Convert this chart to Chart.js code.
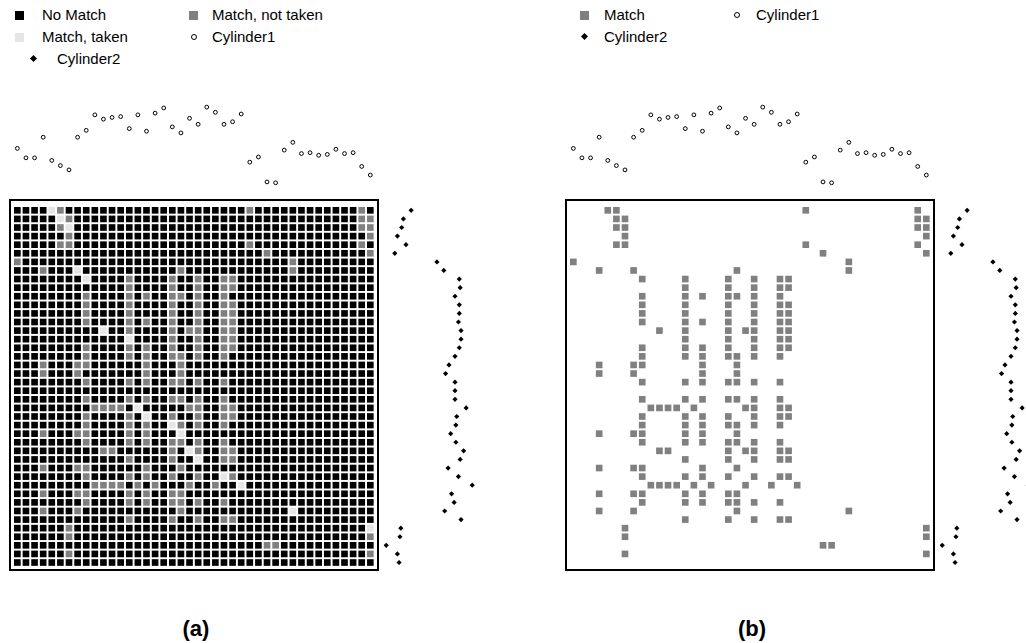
<!DOCTYPE html>
<html>
<head>
<meta charset="utf-8">
<script src="https://cdn.jsdelivr.net/npm/chart.js@4.4.0/dist/chart.umd.min.js"></script>
<style>
  html, body { margin: 0; padding: 0; background: #fff; }
  body { width: 1026px; height: 643px; position: relative; overflow: hidden; font-family: "Liberation Sans", Arial, sans-serif; color: #000; }
  .panel { position: absolute; top: 90px; }
  .key { position: absolute; height: 18px; line-height: 18px; font-size: 15px; white-space: nowrap; }
  .sw { position: absolute; }
  .sq { width: 9px; height: 9px; }
  .ring { width: 4px; height: 4px; border: 1px solid #000; border-radius: 50%; background: #fff; }
  .dia { width: 5px; height: 5px; background: #000; transform: rotate(45deg); }
  .cap { position: absolute; top: 615px; width: 120px; text-align: center; font-size: 22px; font-weight: bold; line-height: 28px; }
</style>
</head>
<body>
  <!-- Legend (a) -->
  <div class="sw sq" style="left:15px; top:11px; background:#000000;"></div>
  <div class="key" style="left:42px; top:6px;">No Match</div>
  <div class="sw sq" style="left:189px; top:11px; background:#808080;"></div>
  <div class="key" style="left:212px; top:6px;">Match, not taken</div>
  <div class="sw sq" style="left:15px; top:33px; background:#e6e6e6;"></div>
  <div class="key" style="left:42px; top:28px;">Match, taken</div>
  <div class="sw ring" style="left:191px; top:34px;"></div>
  <div class="key" style="left:212px; top:28px;">Cylinder1</div>
  <div class="sw dia" style="left:31px; top:56px;"></div>
  <div class="key" style="left:57px; top:50px;">Cylinder2</div>

  <!-- Legend (b) -->
  <div class="sw sq" style="left:580px; top:11px; background:#808080;"></div>
  <div class="key" style="left:604px; top:6px;">Match</div>
  <div class="sw ring" style="left:734px; top:12px;"></div>
  <div class="key" style="left:756px; top:6px;">Cylinder1</div>
  <div class="sw dia" style="left:582px; top:34px;"></div>
  <div class="key" style="left:604px; top:28px;">Cylinder2</div>

  <div class="panel" style="left:0px;"><canvas id="chartA" width="490" height="500"></canvas></div>
  <div class="panel" style="left:556px;"><canvas id="chartB" width="490" height="500"></canvas></div>

  <div class="cap" style="left:136px;">(a)</div>
  <div class="cap" style="left:692px;">(b)</div>

<script>
// Grid of 42 x 42 cells (rows = cylinder2 samples, columns = cylinder1 samples)
const GRID = 42;

// Columns that match, per row
const matchCols = [
  [4, 5, 27, 40],
  [5, 6, 40, 41],
  [5, 6, 40, 41],
  [6, 41],
  [5, 6, 27, 40],
  [29, 41],
  [0, 32],
  [3, 7, 19, 32],
  [8, 13, 18, 21, 24, 25],
  [13, 18, 21, 24, 25],
  [8, 13, 15, 18, 19, 21, 24],
  [8, 13, 18, 21, 24, 25],
  [8, 13, 18, 21, 24, 25],
  [8, 13, 15, 18, 21, 24, 25],
  [10, 13, 18, 20, 21, 24, 25],
  [13, 18, 21, 24, 25],
  [8, 13, 15, 18, 21, 24, 25],
  [8, 13, 15, 18, 19, 21, 24],
  [3, 7, 8, 15, 19],
  [3, 7, 15, 19],
  [8, 13, 15, 18, 19, 21, 24],
  [],
  [8, 13, 15, 18, 19, 21, 24],
  [9, 10, 11, 12, 14, 20, 21, 24, 25],
  [8, 13, 15, 18, 21, 24, 25],
  [8, 13, 15, 18, 19, 21, 24],
  [3, 7, 8, 13, 15, 19],
  [8, 13, 15, 18, 19, 21, 24],
  [10, 11, 18, 20, 21, 24, 25],
  [13, 18, 21, 24, 25],
  [3, 7, 8, 15, 19],
  [8, 13, 15, 18, 21, 24, 25],
  [9, 10, 11, 12, 14, 16, 20, 23, 26],
  [3, 7, 8, 13, 15, 18, 19],
  [8, 13, 15, 18, 19, 21, 24],
  [3, 7, 19, 32],
  [13, 18, 21, 24, 25],
  [6, 41],
  [6, 41],
  [29, 30],
  [6, 41],
  []
];

// Matches that were taken, as [row, column]
const takenCells = [
  [0, 4], [1, 5], [2, 6], [7, 7], [8, 8], [14, 10], [15, 13], [23, 14], [24, 15],
  [25, 18], [26, 19], [28, 20], [29, 21], [31, 24], [32, 26], [35, 32], [37, 41]
];

// Cylinder profiles (one sample per column / row)
const cylinder1 = [6.0, 4.9, 4.9, 7.3, 4.6, 4.0, 3.5, 7.3, 8.1, 9.9, 9.4, 9.6, 9.7, 8.3,
  9.9, 8.0, 10.1, 10.7, 8.5, 7.8, 9.5, 8.8, 10.8, 10.2, 8.8, 9.1, 10.0, 4.4, 5.0, 2.1,
  2.0, 5.8, 6.7, 5.4, 5.5, 5.2, 5.3, 5.9, 5.4, 5.5, 3.9, 2.9];
const cylinder2 = [3.8, 2.9, 2.7, 2.2, 3.2, 1.9, 6.8, 7.6, 9.4, 9.5, 8.9, 9.4, 9.4, 9.3,
  9.6, 9.6, 9.4, 8.9, 8.2, 7.8, 8.9, 8.9, 8.9, 10.2, 9.1, 9.0, 8.4, 9.0, 9.9, 9.5,
  8.1, 9.3, 10.9, 8.5, 8.8, 7.7, 9.6, 2.6, 2.5, 0.9, 2.2, 2.4];

const COLORS = { noMatch: '#000000', notTaken: '#808080', taken: '#e6e6e6', match: '#808080' };

function is_taken(r, c) {
  return takenCells.some(p => p[0] === r && p[1] === c);
}

let noMatch = [], notTaken = [], taken = [], allMatch = [];
for (let r = 0; r < GRID; r++) {
  for (let c = 0; c < GRID; c++) {
    let pt = { x: c, y: r };
    if (matchCols[r].indexOf(c) < 0) {
      noMatch.push(pt);
    } else {
      allMatch.push(pt);
      if (is_taken(r, c)) taken.push(pt); else notTaken.push(pt);
    }
  }
}
let cyl1Points = cylinder1.map((v, i) => ({ x: i, y: v }));
let cyl2Points = cylinder2.map((v, i) => ({ x: v, y: i }));

function cell_set(label, data, color) {
  return {
    label: label, data: data, xAxisID: 'x', yAxisID: 'y',
    pointStyle: 'rect', pointRadius: 4.7, pointHoverRadius: 4.7,
    pointBackgroundColor: color, pointBorderWidth: 0
  };
}

function cylinder_sets() {
  return [
    {
      label: 'Cylinder1', data: cyl1Points, xAxisID: 'x', yAxisID: 'yc',
      pointStyle: 'circle', pointRadius: 1.9, pointBorderWidth: 1,
      pointBorderColor: '#000', pointBackgroundColor: '#fff'
    },
    {
      label: 'Cylinder2', data: cyl2Points, xAxisID: 'xc', yAxisID: 'y',
      pointStyle: 'rectRot', pointRadius: 2.6, pointBorderWidth: 0,
      pointBackgroundColor: '#000'
    }
  ];
}

// Frame round the match grid
const framePlugin = {
  id: 'frame',
  beforeDatasetsDraw(chart) {
    let ctx = chart.ctx, sx = chart.scales.x, sy = chart.scales.y;
    let x0 = Math.round(sx.getPixelForValue(-0.91));
    let x1 = Math.round(sx.getPixelForValue(41.94));
    let y0 = Math.round(sy.getPixelForValue(-1.2));
    let y1 = Math.round(sy.getPixelForValue(41.87));
    ctx.save();
    ctx.strokeStyle = '#000';
    ctx.lineWidth = 2;
    ctx.strokeRect(x0, y0, x1 - x0, y1 - y0);
    ctx.restore();
  }
};

function make_options() {
  return {
    responsive: false,
    animation: false,
    events: [],
    layout: { padding: 0, autoPadding: false },
    plugins: { legend: { display: false }, tooltip: { enabled: false } },
    scales: {
      x: { type: 'linear', display: false, min: -2.015, max: 54.9 },
      y: { type: 'linear', display: false, reverse: true, min: -14.01, max: 44.2 },
      xc: { type: 'linear', axis: 'x', display: false, min: -44.01, max: 12.97 },
      yc: { type: 'linear', axis: 'y', display: false, min: -45.35, max: 12.79 }
    }
  };
}

new Chart(document.getElementById('chartA'), {
  type: 'scatter',
  data: {
    datasets: [
      cell_set('No Match', noMatch, COLORS.noMatch),
      cell_set('Match, not taken', notTaken, COLORS.notTaken),
      cell_set('Match, taken', taken, COLORS.taken)
    ].concat(cylinder_sets())
  },
  options: make_options(),
  plugins: [framePlugin]
});

new Chart(document.getElementById('chartB'), {
  type: 'scatter',
  data: {
    datasets: [cell_set('Match', allMatch, COLORS.match)].concat(cylinder_sets())
  },
  options: make_options(),
  plugins: [framePlugin]
});
</script>
</body>
</html>
